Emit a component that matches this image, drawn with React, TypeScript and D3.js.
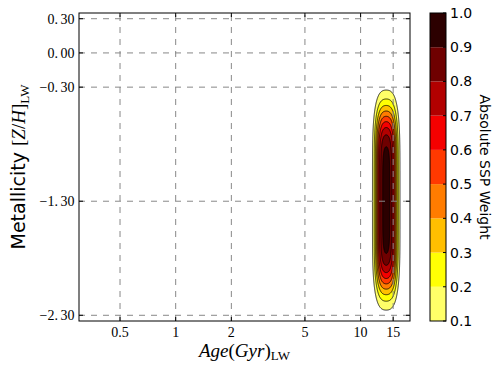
import React, { useMemo } from 'react';
import * as d3 from 'd3';

// ---- axis ticks ----
const ageTicks = [0.5, 1, 2, 5, 10, 15];
const ageTickLabels = ['0.5', '1', '2', '5', '10', '15'];
const metalTicks = [0.3, 0.0, -0.3, -1.3, -2.3];
const metalTickLabels = ['0.30', '0.00', '−0.30', '−1.30', '−2.30'];
const ageDomain = [0.3, 18.5];
const metalDomain = [-2.35, 0.35];

// ---- colour levels ----
const weightLevels = [0.1, 0.2, 0.3, 0.4, 0.5, 0.6, 0.7, 0.8, 0.9, 1.0];
const weightTickLabels = ['0.1', '0.2', '0.3', '0.4', '0.5', '0.6', '0.7', '0.8', '0.9', '1.0'];

// ---- SSP weight component ----
const compAgeGyr = [13.76];
const compMetal = [-1.29];
const compPeak = [0.97];
const compHalfWidthLogAge = [0.0487];
const compSoftLogAge = [0.0203];
const compHalfWidthMetal = [0.745];
const compSoftMetal = [0.175];

function erf(x: number) {
  const s = Math.sign(x);
  x = Math.abs(x);
  const t = 1 / (1 + 0.3275911 * x);
  const y = 1 - (((((1.061405429 * t - 1.453152027) * t) + 1.421413741) * t - 0.284496736) * t + 0.254829592) * t * Math.exp(-x * x);
  return s * y;
}
function boxProfile(u: number, a: number, s: number) {
  return 0.5 * (erf((u + a) / (Math.SQRT2 * s)) - erf((u - a) / (Math.SQRT2 * s)));
}
function hot(x: number) {
  const r = x < 0.365079 ? 0.0416 + (1 - 0.0416) * x / 0.365079 : 1;
  const g = x < 0.365079 ? 0 : x < 0.746032 ? (x - 0.365079) / (0.746032 - 0.365079) : 1;
  const b = x < 0.746032 ? 0 : (x - 0.746032) / (1 - 0.746032);
  return d3.rgb(r * 255, g * 255, b * 255).formatHex();
}

const L = 79, R = 410, T = 13, B = 321;
const CBL = 430, CBR = 446;

export default function App() {
  const x = d3.scaleLog().domain(ageDomain).range([L, R]);
  const y = d3.scaleLinear().domain(metalDomain).range([B, T]);
  const cy = d3.scaleLinear().domain([weightLevels[0], weightLevels[weightLevels.length - 1]]).range([B, T]);

  const bandColors = weightLevels.slice(0, -1).map((lo, i) => hot(1 - (lo + weightLevels[i + 1]) / 2));

  const { fills, lines } = useMemo(() => {
    const step = 0.5;
    const nx = Math.round((R - L) / step), ny = Math.round((B - T) / step);
    const values = new Float64Array(nx * ny);
    for (let c = 0; c < compAgeGyr.length; c++) {
      const hx = new Float64Array(nx);
      const hy = new Float64Array(ny);
      const la0 = Math.log10(compAgeGyr[c]);
      for (let i = 0; i < nx; i++) {
        const la = Math.log10(x.invert(L + (i + 0.5) * step));
        hx[i] = boxProfile(la - la0, compHalfWidthLogAge[c], compSoftLogAge[c]);
      }
      for (let j = 0; j < ny; j++) {
        const m = y.invert(T + (j + 0.5) * step);
        hy[j] = boxProfile(m - compMetal[c], compHalfWidthMetal[c], compSoftMetal[c]);
      }
      for (let j = 0; j < ny; j++) for (let i = 0; i < nx; i++) values[j * nx + i] += compPeak[c] * hx[i] * hy[j];
    }
    const cs = d3.contours().size([nx, ny]).thresholds(weightLevels.slice(0, -1))(values as any);
    const proj = d3.geoTransform({
      point(px: number, py: number) { (this as any).stream.point(L + px * step, T + py * step); },
    });
    const path = d3.geoPath(proj);
    const fills = cs.map((c, i) => ({ d: path(c as any) || '', color: bandColors[i] }));
    const lines = cs.map((c) => path(c as any) || '');
    return { fills, lines };
  }, []);

  const serif = "'Liberation Serif', 'Times New Roman', serif";
  const sans = "'DejaVu Sans', sans-serif";

  return (
    <svg width={496} height={371} style={{ position: 'absolute', left: 0, top: 0, background: '#fff' }}>
      <defs>
        <clipPath id="plotclip"><rect x={L} y={T} width={R - L} height={B - T} /></clipPath>
      </defs>
      <rect x={0} y={0} width={496} height={371} fill="#fff" />
      <g clipPath="url(#plotclip)">
        {fills.map((f, i) => <path key={'f' + i} d={f.d} fill={f.color} stroke="none" />)}
        {lines.map((d, i) => <path key={'l' + i} d={d} fill="none" stroke="#000" strokeWidth={0.8} />)}
      </g>
      {/* grid */}
      <g stroke="#888" strokeWidth={1} strokeDasharray="6,6" fill="none">
        {ageTicks.map((t, i) => <line key={'gx' + i} x1={x(t)} x2={x(t)} y1={B} y2={T} />)}
        {metalTicks.map((t, i) => <line key={'gy' + i} x1={L} x2={R} y1={y(t)} y2={y(t)} />)}
      </g>
      {/* ticks */}
      <g stroke="#000" strokeWidth={1}>
        {ageTicks.map((t, i) => (
          <g key={'tx' + i}>
            <line x1={x(t)} x2={x(t)} y1={B} y2={B - 4} />
            <line x1={x(t)} x2={x(t)} y1={T} y2={T + 4} />
          </g>
        ))}
        {metalTicks.map((t, i) => (
          <g key={'ty' + i}>
            <line x1={L} x2={L + 4} y1={y(t)} y2={y(t)} />
            <line x1={R} x2={R - 4} y1={y(t)} y2={y(t)} />
          </g>
        ))}
      </g>
      <rect x={L} y={T} width={R - L} height={B - T} fill="none" stroke="#000" strokeWidth={1} />
      {/* tick labels */}
      <g fontFamily={serif} fontSize={14} fill="#000">
        {ageTicks.map((t, i) => (
          <text key={'lx' + i} x={x(t)} y={337} textAnchor="middle">{ageTickLabels[i]}</text>
        ))}
        {metalTicks.map((t, i) => {
          const lab = metalTickLabels[i];
          const k = lab.indexOf('.') + 1;
          return (
            <text key={'ly' + i} x={74.5} y={y(t) + 4.8} textAnchor="end">
              {lab.slice(0, k)}<tspan dx={2.5}>{lab.slice(k)}</tspan>
            </text>
          );
        })}
      </g>
      {/* axis labels */}
      <text transform="translate(25,167) rotate(-90)" textAnchor="middle" fontSize={19} fill="#000">
        <tspan fontFamily={sans}>Metallicity </tspan>
        <tspan fontFamily={serif}>[</tspan>
        <tspan fontFamily={serif} fontStyle="italic">Z</tspan>
        <tspan fontFamily={serif}>/</tspan>
        <tspan fontFamily={serif} fontStyle="italic">H</tspan>
        <tspan fontFamily={serif}>]</tspan>
        <tspan fontFamily={serif} fontSize={13} dy={4}>LW</tspan>
      </text>
      <text x={(L + R) / 2} y={357} textAnchor="middle" fontSize={19} fontFamily={serif} fill="#000">
        <tspan fontStyle="italic">Age</tspan>
        <tspan>(</tspan>
        <tspan fontStyle="italic">Gyr</tspan>
        <tspan>)</tspan>
        <tspan fontSize={13} dy={3}>LW</tspan>
      </text>
      {/* colorbar */}
      <g>
        {bandColors.map((c, i) => (
          <rect key={'cb' + i} x={CBL} y={cy(weightLevels[i + 1])} width={CBR - CBL}
            height={cy(weightLevels[i]) - cy(weightLevels[i + 1])} fill={c} stroke="none" />
        ))}
        {weightLevels.map((v, i) => (
          <line key={'cbt' + i} x1={CBR} x2={CBR - 3} y1={cy(v)} y2={cy(v)} stroke="#000" strokeWidth={1} />
        ))}
        <rect x={CBL} y={T} width={CBR - CBL} height={B - T} fill="none" stroke="#000" strokeWidth={1} />
        {weightLevels.map((v, i) => (
          <text key={'cbl' + i} x={450} y={cy(v) + 5} fontFamily={sans} fontSize={14} fill="#000">{weightTickLabels[i]}</text>
        ))}
        <text transform="translate(480,167) rotate(90)" textAnchor="middle" fontFamily={sans} fontSize={14} fill="#000">Absolute SSP Weight</text>
      </g>
    </svg>
  );
}
